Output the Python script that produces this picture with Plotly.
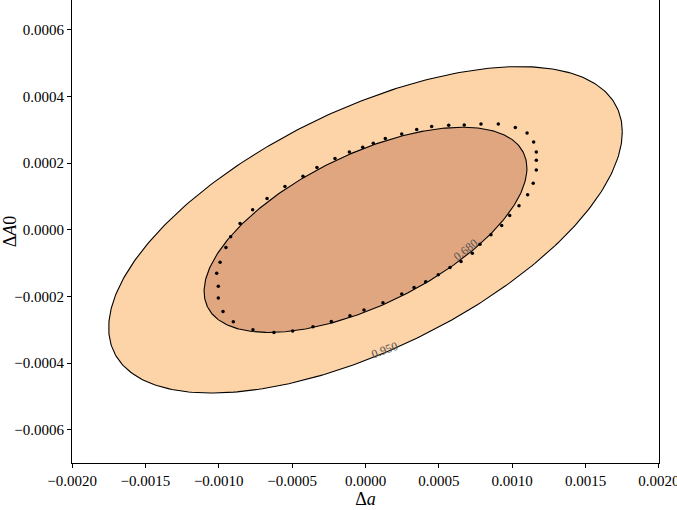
import numpy as np
import plotly.graph_objects as go

# Confidence contours (Gaussian, centred at 0): level, half-width in Δa, half-height in ΔA0, correlation
levels = [0.950, 0.680]
level_labels = ["0.950", "0.680"]
half_width_a = [0.00175, 0.00110]
half_height_A0 = [0.000490, 0.000308]
correlation = [0.60, 0.60]
fill_colors = ["rgb(253,211,168)", "rgb(224,166,128)"]

# Dotted comparison contour, units of 1e-4
dots_a = [-10.03, -10.03, -10.14, -9.91, -9.51, -9.19, -8.55, -7.69, -6.71, -5.49,
          -4.26, -3.31, -2.08, -1.10, -0.19, 0.53, 1.35, 2.47, 3.49, 4.51,
          5.67, 6.73, 7.87, 9.05, 10.21, 11.01, 11.46, 11.64, 11.64, 11.64,
          11.43, 11.05, 10.46, 9.83, 9.28, 8.55, 7.80, 7.28, 6.51, 5.76,
          4.96, 4.10, 3.31, 2.47, 1.19, -0.10, -1.06, -2.33, -3.58, -4.96,
          -6.24, -7.67, -9.01, -9.71]
dots_A0 = [-2.05, -1.69, -1.30, -0.97, -0.53, -0.21, 0.19, 0.60, 0.94, 1.30,
           1.61, 1.87, 2.14, 2.34, 2.48, 2.60, 2.74, 2.88, 3.01, 3.10,
           3.14, 3.15, 3.18, 3.18, 3.07, 2.91, 2.64, 2.34, 2.09, 1.80,
           1.40, 1.05, 0.72, 0.43, 0.13, -0.15, -0.43, -0.70, -0.95, -1.13,
           -1.35, -1.56, -1.73, -1.93, -2.19, -2.41, -2.58, -2.75, -2.91, -3.04,
           -3.08, -3.00, -2.76, -2.45]

x_ticks = [-0.0020, -0.0015, -0.0010, -0.0005, 0.0, 0.0005, 0.0010, 0.0015, 0.0020]
y_ticks = [-0.0006, -0.0004, -0.0002, 0.0, 0.0002, 0.0004, 0.0006]

fig = go.Figure()

t = np.linspace(0, 2 * np.pi, 400)
for lev, A, B, r, col in zip(levels, half_width_a, half_height_A0, correlation, fill_colors):
    xs = A * np.cos(t)
    ys = B * (r * np.cos(t) + np.sqrt(1 - r * r) * np.sin(t))
    fig.add_trace(go.Scatter(x=xs, y=ys, mode="lines", fill="toself",
                             fillcolor=col, line=dict(color="black", width=1.1),
                             hoverinfo="skip", showlegend=False))

fig.add_trace(go.Scatter(x=[v * 1e-4 for v in dots_a], y=[v * 1e-4 for v in dots_A0],
                         mode="markers", marker=dict(color="black", size=3.5),
                         showlegend=False))

# contour labels
fig.add_annotation(x=0.00068, y=-0.00006, text=level_labels[1], showarrow=False,
                   textangle=-38, font=dict(family="Liberation Serif", size=12, color="#555555"))
fig.add_annotation(x=0.00013, y=-0.00036, text=level_labels[0], showarrow=False,
                   textangle=-20, font=dict(family="Liberation Serif", size=12, color="#555555"))

axis_common = dict(showgrid=False, zeroline=False, showline=True, linecolor="black",
                   linewidth=1, mirror=True, ticks="outside", ticklen=4, tickcolor="black",
                   tickfont=dict(family="Liberation Serif", size=15, color="black"),
                   tickformat=".4f", automargin=False, ticklabeloverflow="allow")
fig.update_xaxes(range=[-0.0020002, 0.0020002], tickvals=x_ticks,
                 title=dict(text="Δ<i>a</i>", font=dict(family="Liberation Serif", size=18, color="black"),
                            standoff=2), **axis_common)
fig.update_yaxes(range=[-0.0007, 0.00069], tickvals=y_ticks,
                 title=dict(text="Δ<i>A</i>0", font=dict(family="Liberation Serif", size=18, color="black"),
                            standoff=4), **axis_common)

fig.update_layout(width=677, height=510, margin=dict(l=72, r=18, t=0, b=47),
                  plot_bgcolor="white", paper_bgcolor="white")

fig.write_html("out.html", config={"displayModeBar": False},
               post_script="document.body.style.margin='0';document.body.style.padding='0';")
